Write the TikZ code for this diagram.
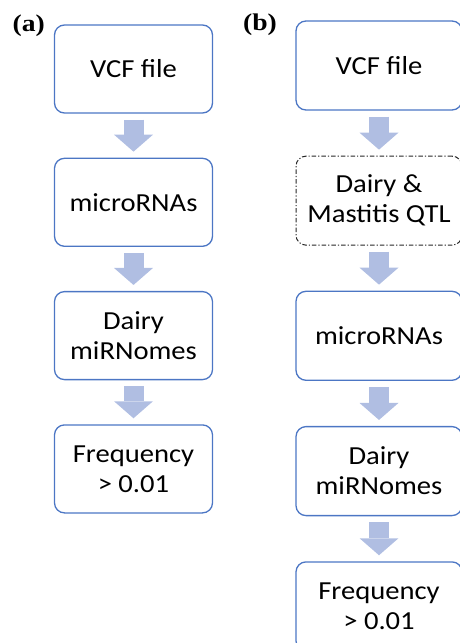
\documentclass[tikz,border=0pt]{standalone}
\usepackage{fontspec}
\usepackage{xcolor}
\usepackage{tikz}
\usetikzlibrary{arrows.meta,positioning}
\newfontfamily\boxfont[FakeStretch=1.1]{Carlito}
\newfontface\tagfont[FakeStretch=1.15]{Liberation Serif Bold}
\definecolor{boxblue}{RGB}{76,118,196}
\definecolor{arrowblue}{RGB}{176,190,226}
\tikzset{
  stepbox/.style={draw=boxblue, line width=1.3pt, rounded corners=10pt,
    minimum width=158pt, minimum height=88pt, inner sep=0pt, align=center,
    font=\boxfont\fontsize{26}{30}\selectfont},
  widebox/.style={stepbox, minimum width=166pt, minimum height=89pt},
  qtlbox/.style={widebox, draw=black!85, line width=1pt,
    dash pattern=on 4.5pt off 2pt on 1.2pt off 2pt},
  flow/.style={draw=arrowblue, line width=20pt, shorten <=6pt, shorten >=6pt,
    -{Triangle[width=39pt,length=17pt,line width=0pt,fill=arrowblue]}},
  paneltag/.style={inner sep=0pt, anchor=base west,
    font=\tagfont\fontsize{24}{24}\selectfont}
}
\begin{document}
\begin{tikzpicture}[x=1pt,y=-1pt]
\useasboundingbox (0,0) rectangle (460,643);
% (a) left flow
\node [paneltag] (taga) at (12.5,31) {(a)};
\node [stepbox] (a1) at (133.5,69) {VCF file};
\node [stepbox, below=44pt of a1] (a2) {microRNAs};
\node [stepbox, below=44pt of a2] (a3) {Dairy\\miRNomes};
\node [stepbox, below=44pt of a3] (a4) {Frequency\\> 0.01};
% (b) right flow
\node [paneltag] (tagb) at (243,30) {(b)};
\node [widebox] (b1) at (379,65.5) {VCF file};
\node [qtlbox, below=45pt of b1] (b2) {Dairy \&\\Mastitis QTL};
\node [widebox, below=45pt of b2] (b3) {microRNAs};
\node [widebox, below=45pt of b3] (b4) {Dairy\\miRNomes};
\node [widebox, below=45pt of b4] (b5) {Frequency\\> 0.01};
%\node [widebox] (b5) at (379,602.5) {Frequency\\> 0.01};
\draw [flow] (a1) -- (a2);
\draw [flow] (a2) -- (a3);
\draw [flow] (a3) -- (a4);
\draw [flow] (b1) -- (b2);
\draw [flow] (b2) -- (b3);
\draw [flow] (b3) -- (b4);
\draw [flow] (b4) -- (b5);
\end{tikzpicture}
\end{document}
